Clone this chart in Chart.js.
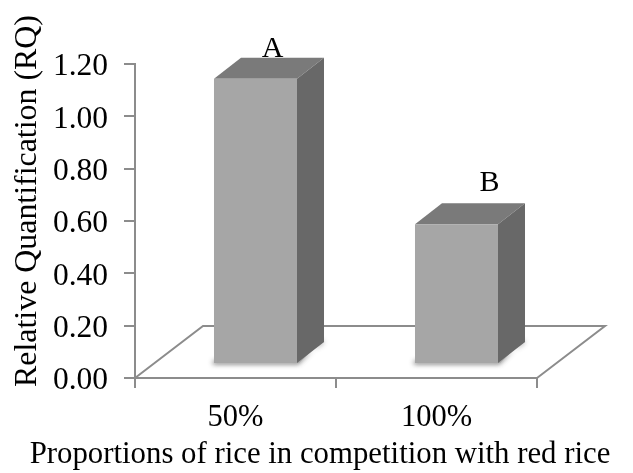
<!DOCTYPE html>
<html>
<head>
<meta charset="utf-8">
<style>
  html, body { margin:0; padding:0; background:#fff; }
  canvas { display:block; }
</style>
<script src="https://cdn.jsdelivr.net/npm/chart.js@4"></script>
</head>
<body>
<canvas id="chart" width="633" height="473"></canvas>
<script>
// data
const categories = ['50%', '100%'];
const rqValues = [1.09, 0.534];
const barLetters = ['A', 'B'];
const yTicks = [0, 0.2, 0.4, 0.6, 0.8, 1.0, 1.2];
const xTitle = 'Proportions of rice in competition with red rice';
const yTitle = 'Relative Quantification (RQ)';

const FONT = '"Liberation Serif", "Times New Roman", serif';
const AXIS = '#8c8c8c';
const FRONT = '#a6a6a6', TOP = '#7a7a7a', SIDE = '#686868';
// bar box offsets, in px
const LIFT = 14, SHIFT = 20, DX = 27, DY = 21;
// floor depth
const FLOOR_DX = 68, FLOOR_DY = 52;

function poly(ctx, pts, fill){
  ctx.beginPath();
  pts.forEach((p, i) => i ? ctx.lineTo(p[0], p[1]) : ctx.moveTo(p[0], p[1]));
  ctx.closePath();
  ctx.fillStyle = fill;
  ctx.fill();
}

const box3d = {
  id: 'box3d',
  beforeDatasetsDraw(chart){
    const { ctx, scales:{ x, y } } = chart;
    const y0 = y.getPixelForValue(0);

    // floor
    ctx.save();
    ctx.strokeStyle = AXIS;
    ctx.lineWidth = 2;
    ctx.beginPath();
    ctx.moveTo(x.left, y0);
    ctx.lineTo(x.left + FLOOR_DX, y0 - FLOOR_DY);
    ctx.lineTo(x.right + FLOOR_DX, y0 - FLOOR_DY);
    ctx.lineTo(x.right, y0);
    ctx.stroke();
    ctx.restore();

    chart.getDatasetMeta(0).data.forEach(bar => {
      const l = bar.x - bar.width / 2 + SHIFT, r = bar.x + bar.width / 2 + SHIFT;
      const t = bar.y - LIFT, b = bar.base - LIFT;

      // soft shadow on the floor
      ctx.save();
      ctx.shadowColor = 'rgba(60,60,60,0.85)';
      ctx.shadowBlur = 5;
      ctx.shadowOffsetX = -1;
      ctx.shadowOffsetY = 1;
      poly(ctx, [[l, b - 3], [r, b - 3], [r + DX, b - DY], [r + DX, b - DY - 3], [r + 2, b], [l, b]], '#aaa');
      ctx.restore();

      poly(ctx, [[l, t], [l + DX, t - DY], [r + DX, t - DY], [r, t]], TOP);
      poly(ctx, [[r, t], [r + DX, t - DY], [r + DX, b - DY], [r, b]], SIDE);
    });

    // front faces sit above the floor's front edge
    ctx.save();
    ctx.translate(SHIFT, -LIFT);
  },
  afterDatasetsDraw(chart){
    const { ctx } = chart;
    ctx.restore();

    ctx.save();
    ctx.fillStyle = '#000';
    ctx.textAlign = 'center';
    ctx.textBaseline = 'alphabetic';

    // letters over the bars
    ctx.font = '30px ' + FONT;
    const meta = chart.getDatasetMeta(0).data;
    ctx.fillText(barLetters[0], meta[0].x + SHIFT + 17, meta[0].y - LIFT - 22);
    ctx.fillText(barLetters[1], meta[1].x + SHIFT + 33, meta[1].y - LIFT - 33);

    // axis titles, offset from the plot centre like the original
    ctx.font = '30.8px ' + FONT;
    ctx.fillText(xTitle, 320, 463);
    ctx.font = '31.9px ' + FONT;
    ctx.translate(36, 201);
    ctx.rotate(-Math.PI / 2);
    ctx.fillText(yTitle, 0, 0);
    ctx.restore();
  }
};

new Chart(document.getElementById('chart'), {
  type: 'bar',
  data: {
    labels: categories,
    datasets: [{
      data: rqValues,
      backgroundColor: FRONT,
      borderWidth: 0,
      barPercentage: 0.413,
      categoryPercentage: 1,
      clip: false
    }]
  },
  plugins: [box3d],
  options: {
    responsive: false,
    animation: false,
    layout: { padding: { top: 64, right: 96, left: 0, bottom: 0 } },
    plugins: { legend: { display: false }, tooltip: { enabled: false } },
    scales: {
      x: {
        afterFit(s){ s.height = 95; },
        border: { color: AXIS, width: 2 },
        grid: { drawOnChartArea: false, color: AXIS, lineWidth: 2, tickLength: 10, offset: true },
        ticks: { color: '#000', font: { family: FONT, size: 30.5 }, padding: 12, maxRotation: 0 }
      },
      y: {
        min: 0,
        max: 1.2,
        afterFit(s){ s.width = 135; },
        afterBuildTicks(s){ s.ticks = yTicks.map(v => ({ value: v })); },
        border: { color: AXIS, width: 2 },
        grid: { drawOnChartArea: false, color: AXIS, lineWidth: 2, tickLength: 11 },
        ticks: { color: '#000', font: { family: FONT, size: 31.5 }, padding: 16, labelOffset: 3, callback: v => v.toFixed(2) }
      }
    }
  }
});
</script>
</body>
</html>
